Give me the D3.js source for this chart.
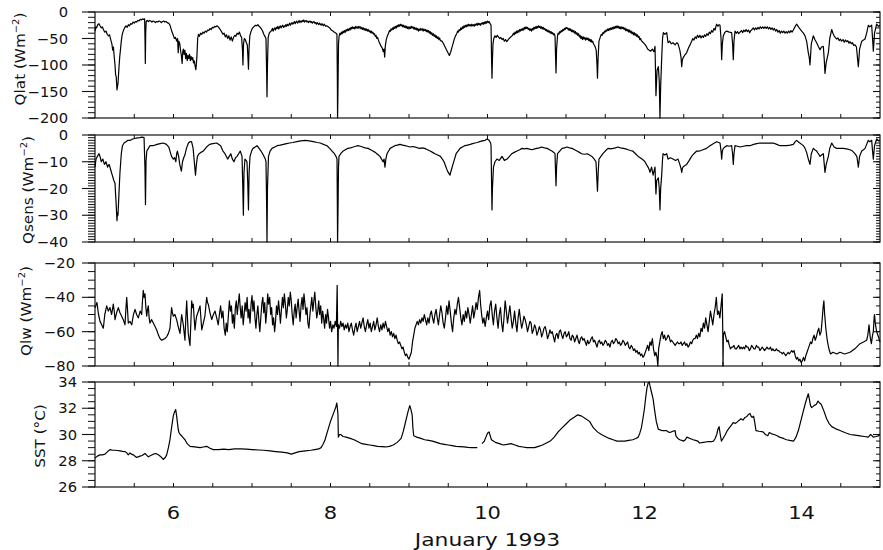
<!DOCTYPE html>
<html>
<head>
<meta charset="utf-8">
<script src="https://cdn.jsdelivr.net/npm/d3@7"></script>
<style>
  body { margin: 0; background: #fff; }
  svg text { font-family: "DejaVu Sans", "Liberation Sans", sans-serif; font-weight: normal; fill: #111; }
</style>
</head>
<body>
<svg id="chart" width="883" height="550"></svg>
<script>
// Surface heat-flux components and sea-surface temperature, 5-15 January 1993.
// Time is in days of January 1993; each series is [day, value].

const qlatSeries = [
  [5.000,-36],[5.010,-28],[5.020,-30],[5.035,-24],[5.050,-22],[5.064,-26],[5.080,-30],[5.095,-28],[5.110,-34],
  [5.125,-38],[5.140,-36],[5.155,-42],[5.170,-45],[5.185,-43],[5.200,-52],[5.215,-60],[5.225,-72],[5.235,-66],
  [5.245,-85],[5.255,-100],[5.262,-118],[5.270,-122],[5.280,-147],[5.287,-140],[5.293,-135],[5.300,-118],
  [5.306,-103],[5.315,-85],[5.325,-70],[5.335,-55],[5.344,-45],[5.355,-38],[5.370,-32],[5.385,-28],[5.395,-26],
  [5.410,-29],[5.425,-24],[5.440,-26],[5.455,-22],[5.470,-23],[5.485,-19],[5.500,-21],[5.515,-18],[5.530,-19],
  [5.545,-16],[5.560,-17],[5.575,-14],[5.590,-15],[5.605,-13],[5.620,-14],[5.632,-13],[5.638,-60],[5.641,-97],
  [5.646,-40],[5.652,-18],[5.665,-16],[5.680,-18],[5.695,-16],[5.710,-17],[5.725,-19],[5.740,-17],[5.755,-18],
  [5.770,-20],[5.785,-18],[5.800,-19],[5.815,-17],[5.830,-18],[5.845,-20],[5.860,-18],[5.875,-17],[5.890,-19],
  [5.905,-18],[5.920,-20],[5.935,-21],[5.950,-23],[5.962,-28],[5.975,-35],[5.988,-40],[6.000,-45],[6.012,-50],
  [6.025,-48],[6.040,-55],[6.052,-50],[6.060,-77],[6.068,-55],[6.080,-60],[6.092,-75],[6.100,-82],[6.110,-97],
  [6.118,-75],[6.125,-70],[6.135,-80],[6.145,-72],[6.155,-88],[6.165,-78],[6.175,-92],[6.185,-82],[6.195,-88],
  [6.205,-80],[6.215,-92],[6.225,-84],[6.235,-90],[6.245,-86],[6.255,-96],[6.265,-92],[6.275,-102],[6.285,-109],
  [6.293,-95],[6.300,-78],[6.308,-50],[6.318,-42],[6.330,-46],[6.345,-40],[6.360,-42],[6.375,-38],[6.390,-40],
  [6.405,-36],[6.420,-38],[6.435,-34],[6.450,-35],[6.465,-31],[6.480,-33],[6.495,-29],[6.510,-30],[6.525,-27],
  [6.540,-28],[6.555,-26],[6.570,-28],[6.585,-31],[6.600,-34],[6.615,-38],[6.630,-42],[6.645,-40],[6.660,-47],
  [6.675,-43],[6.690,-50],[6.705,-45],[6.720,-53],[6.735,-47],[6.750,-55],[6.765,-48],[6.780,-44],[6.795,-46],
  [6.810,-40],[6.825,-42],[6.840,-38],[6.855,-45],[6.868,-48],[6.878,-70],[6.885,-100],[6.892,-60],[6.902,-50],
  [6.915,-52],[6.928,-58],[6.940,-62],[6.948,-85],[6.955,-108],[6.962,-70],[6.972,-45],[6.985,-38],[7.000,-32],
  [7.015,-29],[7.030,-27],[7.045,-25],[7.060,-26],[7.075,-24],[7.090,-27],[7.105,-29],[7.120,-32],[7.135,-36],
  [7.150,-42],[7.165,-46],[7.178,-50],[7.186,-110],[7.191,-160],[7.197,-100],[7.206,-48],[7.220,-40],[7.235,-37],
  [7.250,-35],[7.260,-31],[7.270,-36],[7.280,-32],[7.290,-30],[7.300,-34],[7.310,-29],[7.320,-31],[7.330,-27],
  [7.340,-32],[7.350,-29],[7.360,-26],[7.370,-30],[7.380,-27],[7.390,-25],[7.400,-29],[7.410,-26],[7.420,-28],
  [7.430,-24],[7.440,-27],[7.450,-23],[7.460,-26],[7.470,-24],[7.480,-21],[7.490,-25],[7.500,-22],[7.510,-20],
  [7.520,-23],[7.530,-21],[7.540,-18],[7.550,-22],[7.560,-19],[7.570,-17],[7.580,-21],[7.590,-19],[7.600,-16],
  [7.610,-20],[7.620,-17],[7.630,-19],[7.640,-16],[7.650,-18],[7.660,-15],[7.670,-19],[7.680,-17],[7.690,-16],
  [7.700,-19],[7.710,-17],[7.720,-20],[7.730,-18],[7.740,-17],[7.750,-20],[7.760,-18],[7.770,-21],[7.780,-19],
  [7.790,-18],[7.800,-21],[7.810,-20],[7.820,-23],[7.830,-20],[7.840,-22],[7.850,-24],[7.860,-21],[7.870,-23],
  [7.880,-25],[7.890,-22],[7.900,-24],[7.910,-26],[7.920,-23],[7.930,-25],[7.940,-27],[7.950,-26],[7.970,-28],
  [7.990,-30],[8.010,-34],[8.030,-36],[8.050,-38],[8.070,-40],[8.082,-42],[8.087,-120],[8.090,-200],
  [8.095,-150],[8.102,-60],[8.110,-45],[8.120,-40],[8.130,-43],[8.140,-38],[8.150,-41],[8.160,-36],[8.170,-39],
  [8.180,-35],[8.190,-38],[8.200,-33],[8.210,-36],[8.220,-32],[8.230,-35],[8.240,-31],[8.250,-34],[8.260,-29],
  [8.270,-32],[8.280,-28],[8.290,-31],[8.300,-29],[8.310,-32],[8.320,-27],[8.330,-30],[8.340,-28],[8.350,-31],
  [8.360,-27],[8.370,-30],[8.380,-28],[8.390,-32],[8.400,-29],[8.410,-33],[8.420,-30],[8.430,-34],[8.440,-31],
  [8.450,-35],[8.460,-32],[8.470,-36],[8.480,-33],[8.490,-37],[8.500,-35],[8.510,-39],[8.520,-36],[8.530,-40],
  [8.540,-38],[8.550,-42],[8.560,-41],[8.570,-46],[8.580,-44],[8.590,-50],[8.600,-48],[8.615,-55],[8.630,-60],
  [8.645,-65],[8.660,-68],[8.672,-75],[8.682,-70],[8.690,-85],[8.698,-65],[8.710,-52],[8.725,-45],[8.740,-40],
  [8.750,-35],[8.760,-37],[8.770,-32],[8.780,-34],[8.790,-30],[8.800,-33],[8.810,-28],[8.820,-31],[8.830,-27],
  [8.840,-30],[8.850,-25],[8.860,-28],[8.870,-24],[8.880,-27],[8.890,-23],[8.900,-26],[8.910,-24],[8.920,-28],
  [8.930,-25],[8.940,-29],[8.950,-26],[8.960,-30],[8.970,-27],[8.980,-31],[8.990,-28],[9.000,-32],[9.010,-28],
  [9.020,-31],[9.030,-27],[9.040,-30],[9.050,-28],[9.060,-32],[9.070,-29],[9.080,-33],[9.090,-30],[9.100,-34],
  [9.110,-31],[9.120,-36],[9.130,-32],[9.140,-35],[9.150,-31],[9.160,-34],[9.170,-32],[9.180,-36],[9.190,-32],
  [9.200,-35],[9.210,-33],[9.220,-37],[9.230,-34],[9.240,-38],[9.250,-35],[9.260,-40],[9.270,-37],[9.280,-42],
  [9.290,-39],[9.300,-44],[9.310,-41],[9.320,-46],[9.330,-43],[9.340,-48],[9.350,-45],[9.360,-50],[9.370,-47],
  [9.380,-52],[9.390,-49],[9.400,-54],[9.420,-55],[9.440,-60],[9.460,-66],[9.480,-72],[9.500,-78],[9.515,-82],
  [9.530,-76],[9.545,-68],[9.560,-60],[9.575,-52],[9.590,-46],[9.610,-40],[9.620,-36],[9.630,-38],[9.640,-33],
  [9.650,-35],[9.660,-30],[9.670,-33],[9.680,-28],[9.690,-31],[9.700,-26],[9.710,-29],[9.720,-25],[9.730,-28],
  [9.740,-24],[9.750,-27],[9.760,-23],[9.770,-26],[9.780,-24],[9.790,-27],[9.800,-23],[9.810,-26],[9.820,-24],
  [9.830,-27],[9.840,-23],[9.850,-25],[9.860,-22],[9.870,-25],[9.880,-21],[9.890,-24],[9.900,-22],[9.910,-25],
  [9.920,-21],[9.930,-23],[9.940,-20],[9.950,-23],[9.960,-19],[9.970,-22],[9.980,-18],[9.990,-21],[10.000,-17],
  [10.010,-20],[10.020,-18],[10.030,-21],[10.045,-25],[10.052,-90],[10.057,-125],[10.063,-90],[10.070,-60],
  [10.080,-50],[10.095,-45],[10.110,-48],[10.125,-44],[10.140,-47],[10.155,-50],[10.170,-48],[10.185,-52],
  [10.200,-50],[10.215,-55],[10.230,-52],[10.245,-56],[10.260,-53],[10.275,-50],[10.290,-48],[10.305,-46],
  [10.320,-44],[10.330,-40],[10.340,-43],[10.350,-38],[10.360,-41],[10.370,-36],[10.380,-39],[10.390,-35],
  [10.400,-38],[10.410,-33],[10.420,-36],[10.430,-32],[10.440,-35],[10.450,-31],[10.460,-34],[10.470,-29],
  [10.480,-32],[10.490,-28],[10.500,-31],[10.510,-29],[10.520,-33],[10.530,-31],[10.540,-35],[10.550,-32],
  [10.560,-36],[10.570,-31],[10.580,-34],[10.590,-29],[10.600,-32],[10.610,-28],[10.620,-31],[10.630,-27],
  [10.640,-30],[10.650,-26],[10.660,-29],[10.670,-27],[10.680,-31],[10.690,-28],[10.700,-32],[10.710,-29],
  [10.720,-33],[10.730,-31],[10.740,-35],[10.750,-33],[10.760,-37],[10.770,-34],[10.780,-38],[10.790,-36],
  [10.800,-40],[10.810,-37],[10.820,-41],[10.830,-39],[10.840,-43],[10.850,-41],[10.860,-45],[10.866,-80],
  [10.873,-115],[10.880,-70],[10.892,-45],[10.900,-40],[10.910,-42],[10.920,-37],[10.930,-39],[10.940,-35],
  [10.950,-37],[10.960,-33],[10.970,-35],[10.980,-31],[10.990,-33],[11.000,-29],[11.010,-31],[11.020,-30],
  [11.030,-34],[11.040,-31],[11.050,-35],[11.060,-32],[11.070,-37],[11.080,-34],[11.090,-38],[11.100,-35],
  [11.110,-40],[11.120,-37],[11.130,-42],[11.140,-39],[11.150,-44],[11.160,-41],[11.170,-47],[11.180,-44],
  [11.190,-50],[11.200,-46],[11.210,-52],[11.220,-47],[11.230,-51],[11.240,-48],[11.250,-53],[11.260,-49],
  [11.270,-52],[11.280,-49],[11.290,-54],[11.300,-51],[11.310,-56],[11.320,-52],[11.330,-57],[11.340,-55],
  [11.350,-60],[11.370,-65],[11.385,-72],[11.395,-100],[11.401,-125],[11.408,-90],[11.420,-55],[11.440,-46],
  [11.450,-42],[11.460,-44],[11.470,-39],[11.480,-41],[11.490,-36],[11.500,-38],[11.510,-34],[11.520,-36],
  [11.530,-32],[11.540,-35],[11.550,-31],[11.560,-34],[11.570,-30],[11.580,-33],[11.590,-29],[11.600,-32],
  [11.610,-28],[11.620,-31],[11.630,-27],[11.640,-30],[11.650,-26],[11.660,-30],[11.670,-27],[11.680,-31],
  [11.690,-28],[11.700,-32],[11.710,-28],[11.720,-31],[11.730,-29],[11.740,-33],[11.750,-30],[11.760,-35],
  [11.770,-32],[11.780,-36],[11.790,-33],[11.800,-38],[11.810,-34],[11.820,-39],[11.830,-36],[11.840,-41],
  [11.850,-38],[11.860,-43],[11.870,-39],[11.880,-44],[11.890,-41],[11.900,-46],[11.910,-43],[11.920,-48],
  [11.930,-46],[11.940,-52],[11.950,-50],[11.960,-54],[11.980,-57],[12.000,-60],[12.020,-64],[12.040,-70],
  [12.060,-72],[12.080,-74],[12.100,-70],[12.120,-75],[12.134,-65],[12.146,-158],[12.160,-110],[12.176,-103],
  [12.188,-130],[12.197,-200],[12.206,-140],[12.219,-87],[12.230,-50],[12.240,-39],[12.260,-42],[12.283,-39],
  [12.300,-58],[12.320,-55],[12.340,-60],[12.363,-58],[12.390,-62],[12.410,-58],[12.427,-60],[12.450,-72],
  [12.465,-85],[12.474,-103],[12.483,-90],[12.490,-87],[12.510,-82],[12.537,-77],[12.560,-68],[12.580,-62],
  [12.601,-55],[12.615,-50],[12.630,-53],[12.645,-47],[12.660,-50],[12.675,-44],[12.690,-48],[12.705,-44],
  [12.720,-49],[12.735,-45],[12.750,-48],[12.765,-43],[12.780,-46],[12.795,-41],[12.810,-44],[12.825,-38],
  [12.840,-41],[12.855,-35],[12.870,-38],[12.885,-31],[12.900,-34],[12.910,-27],[12.920,-23],[12.935,-27],
  [12.950,-24],[12.962,-25],[12.975,-50],[12.983,-90],[12.992,-60],[13.004,-45],[13.025,-38],[13.047,-36],
  [13.080,-38],[13.110,-39],[13.122,-60],[13.131,-90],[13.140,-55],[13.153,-36],[13.170,-40],[13.185,-37],
  [13.200,-41],[13.217,-38],[13.235,-35],[13.250,-39],[13.265,-34],[13.280,-37],[13.295,-33],[13.310,-37],
  [13.325,-34],[13.340,-39],[13.355,-35],[13.370,-33],[13.386,-30],[13.400,-34],[13.415,-30],[13.430,-33],
  [13.445,-29],[13.460,-32],[13.475,-28],[13.490,-31],[13.505,-28],[13.520,-31],[13.535,-28],[13.550,-31],
  [13.565,-28],[13.580,-32],[13.595,-29],[13.610,-33],[13.625,-30],[13.640,-34],[13.655,-31],[13.670,-36],
  [13.685,-33],[13.700,-38],[13.715,-35],[13.730,-40],[13.745,-36],[13.760,-39],[13.775,-36],[13.790,-40],
  [13.805,-37],[13.820,-40],[13.835,-36],[13.850,-39],[13.865,-35],[13.880,-38],[13.896,-34],[13.910,-30],
  [13.925,-26],[13.938,-23],[13.970,-30],[14.002,-36],[14.025,-40],[14.045,-45],[14.065,-55],[14.087,-77],
  [14.098,-85],[14.108,-100],[14.125,-60],[14.150,-45],[14.170,-52],[14.193,-58],[14.215,-65],[14.236,-71],
  [14.255,-66],[14.278,-65],[14.290,-90],[14.299,-116],[14.315,-95],[14.342,-77],[14.360,-50],[14.385,-33],
  [14.400,-40],[14.415,-45],[14.430,-48],[14.448,-51],[14.465,-49],[14.480,-54],[14.495,-51],[14.510,-55],
  [14.529,-52],[14.545,-57],[14.560,-53],[14.575,-56],[14.590,-54],[14.605,-59],[14.618,-56],[14.635,-60],
  [14.650,-58],[14.665,-63],[14.682,-62],[14.700,-66],[14.715,-90],[14.724,-103],[14.740,-70],[14.767,-55],
  [14.790,-53],[14.809,-51],[14.830,-40],[14.851,-25],[14.870,-28],[14.894,-25],[14.905,-50],[14.915,-74],
  [14.930,-40],[14.957,-23],[14.980,-27],[15.000,-25]
];

const qsensSeries = [
  [5.000,-12],[5.013,-9],[5.030,-8],[5.050,-7],[5.064,-8],[5.080,-10],[5.100,-9],[5.120,-11],[5.140,-10],
  [5.160,-12],[5.180,-11],[5.200,-13],[5.220,-15],[5.240,-17],[5.255,-18],[5.262,-22],[5.268,-25],[5.280,-32],
  [5.287,-29],[5.293,-30],[5.305,-22],[5.318,-14],[5.335,-7],[5.350,-4],[5.370,-3],[5.395,-2.5],[5.420,-2],
  [5.450,-2],[5.480,-1.5],[5.520,-1.2],[5.570,-1],[5.600,-0.8],[5.625,-1],[5.636,-12],[5.643,-26],[5.650,-10],
  [5.660,-6],[5.680,-5],[5.700,-4],[5.740,-4],[5.790,-3.5],[5.830,-3.2],[5.870,-3],[5.910,-3.5],[5.940,-4.5],
  [5.955,-6],[5.975,-8],[5.998,-9],[6.015,-8.5],[6.030,-10],[6.040,-7],[6.050,-6],[6.065,-8],[6.080,-11],
  [6.100,-13.5],[6.115,-10],[6.130,-8.5],[6.145,-7.5],[6.165,-5],[6.190,-3],[6.210,-2.5],[6.230,-2.5],
  [6.250,-5],[6.265,-10],[6.280,-15],[6.292,-11],[6.305,-8],[6.325,-7],[6.350,-6.5],[6.380,-6],[6.420,-4.5],
  [6.460,-3.5],[6.500,-3.2],[6.550,-3],[6.600,-4],[6.630,-6],[6.656,-7],[6.690,-9],[6.710,-8],[6.730,-7],
  [6.750,-9],[6.770,-10],[6.790,-8.5],[6.810,-8],[6.830,-7],[6.850,-6],[6.873,-8],[6.883,-20],[6.890,-30],
  [6.898,-14],[6.910,-9],[6.925,-9.5],[6.936,-10],[6.946,-18],[6.955,-28],[6.963,-14],[6.975,-8],[6.995,-6],
  [7.013,-5],[7.040,-4.5],[7.064,-4],[7.090,-5],[7.115,-6],[7.135,-7],[7.153,-8],[7.170,-9],[7.178,-10],
  [7.186,-25],[7.191,-40],[7.197,-20],[7.210,-8],[7.230,-6],[7.255,-5],[7.290,-4.5],[7.320,-4],[7.360,-3.8],
  [7.400,-3.5],[7.440,-3.2],[7.480,-3],[7.520,-2.8],[7.570,-2.5],[7.620,-2.2],[7.680,-2],[7.730,-2.2],
  [7.780,-2.5],[7.830,-2.8],[7.870,-3],[7.910,-3.5],[7.955,-4],[7.990,-5],[8.020,-6],[8.050,-7],[8.070,-8],
  [8.083,-9],[8.087,-25],[8.090,-40],[8.095,-30],[8.102,-12],[8.108,-8],[8.130,-7],[8.160,-6],[8.190,-5.5],
  [8.220,-5],[8.255,-4.8],[8.290,-4.5],[8.320,-4.2],[8.350,-4],[8.380,-4.2],[8.410,-4.5],[8.440,-4.8],
  [8.480,-5],[8.510,-5.5],[8.540,-6],[8.570,-6.5],[8.590,-7],[8.610,-7.5],[8.630,-8],[8.650,-9],[8.670,-10],
  [8.682,-9],[8.694,-12],[8.705,-9],[8.720,-7],[8.740,-6],[8.760,-5],[8.790,-4.5],[8.820,-4],[8.850,-3.8],
  [8.885,-3.5],[8.920,-3.8],[8.950,-4],[8.980,-4.2],[9.013,-4.5],[9.045,-4.3],[9.080,-4.5],[9.110,-4.8],
  [9.140,-5],[9.170,-4.8],[9.200,-5],[9.235,-5.5],[9.270,-6],[9.300,-6.5],[9.330,-7],[9.365,-7.5],[9.400,-8],
  [9.425,-9],[9.446,-10],[9.465,-11.5],[9.484,-13],[9.500,-14],[9.522,-15],[9.540,-13],[9.560,-11],[9.580,-9],
  [9.600,-7],[9.625,-6],[9.650,-5],[9.680,-4.5],[9.710,-4],[9.745,-3.8],[9.780,-3.5],[9.810,-3.2],[9.840,-3],
  [9.870,-2.8],[9.900,-2.5],[9.935,-2.2],[9.970,-2],[9.995,-1.5],[10.020,-2],[10.040,-3],[10.045,-4],
  [10.052,-18],[10.057,-28],[10.063,-20],[10.076,-12],[10.095,-10],[10.120,-9],[10.150,-9.5],[10.185,-8],
  [10.215,-9.5],[10.250,-9],[10.280,-8],[10.310,-7],[10.340,-6.5],[10.376,-6],[10.410,-5.5],[10.440,-5],
  [10.470,-5.2],[10.500,-5],[10.535,-5.3],[10.567,-5.5],[10.600,-5.2],[10.630,-5],[10.660,-4.8],[10.690,-4.5],
  [10.725,-4.8],[10.760,-5],[10.790,-5.5],[10.820,-6],[10.845,-6.5],[10.860,-7],[10.866,-13],[10.873,-19],
  [10.880,-12],[10.892,-7],[10.920,-6],[10.950,-5],[10.980,-4.8],[11.013,-4.5],[11.045,-4.8],[11.076,-5],
  [11.110,-5.5],[11.140,-6],[11.170,-6.5],[11.200,-7],[11.235,-7.2],[11.270,-7],[11.300,-7.5],[11.330,-8],
  [11.360,-9],[11.382,-10],[11.392,-16],[11.401,-21],[11.410,-14],[11.420,-9],[11.445,-8],[11.470,-7],
  [11.500,-6],[11.535,-5],[11.565,-5.2],[11.600,-5],[11.630,-4.8],[11.660,-4.5],[11.695,-4.8],[11.730,-5],
  [11.760,-5.2],[11.790,-5.5],[11.820,-5.8],[11.850,-6],[11.885,-7],[11.920,-8],[11.945,-8.5],[11.968,-9],
  [11.990,-9.5],[12.006,-10],[12.025,-11],[12.045,-12],[12.060,-13],[12.070,-14],[12.090,-12],[12.110,-15],
  [12.125,-13],[12.134,-12],[12.140,-18],[12.146,-22],[12.155,-17],[12.176,-16],[12.188,-20],[12.197,-28],
  [12.206,-20],[12.219,-15],[12.230,-9],[12.236,-7],[12.260,-7.5],[12.283,-7],[12.300,-9],[12.330,-8.5],
  [12.363,-9],[12.395,-9.5],[12.427,-9],[12.450,-11],[12.465,-12.5],[12.474,-14],[12.483,-12.5],[12.490,-12],
  [12.510,-11.5],[12.537,-11],[12.570,-9.5],[12.600,-8],[12.630,-7],[12.665,-6],[12.700,-6],[12.745,-5.5],
  [12.790,-5],[12.834,-4],[12.880,-3.2],[12.920,-2.5],[12.945,-2.8],[12.962,-3],[12.975,-6],[12.983,-9],
  [12.992,-6],[13.004,-5],[13.025,-4.5],[13.047,-4],[13.080,-4.2],[13.110,-4],[13.122,-7],[13.131,-11],
  [13.140,-7],[13.153,-4],[13.185,-4.2],[13.217,-4.5],[13.260,-4.2],[13.300,-4],[13.344,-4],[13.390,-3.5],
  [13.430,-3.2],[13.470,-3],[13.515,-3],[13.557,-3],[13.600,-3],[13.640,-3],[13.685,-3.5],[13.726,-4],
  [13.770,-4],[13.811,-4],[13.855,-3.8],[13.896,-3.5],[13.920,-2.5],[13.938,-2],[13.970,-2.8],[14.002,-3.5],
  [14.025,-4],[14.045,-5],[14.065,-6.5],[14.087,-9],[14.098,-10],[14.108,-11],[14.125,-7],[14.150,-5],
  [14.170,-5.5],[14.193,-6],[14.215,-7],[14.236,-8],[14.255,-7.5],[14.278,-7],[14.290,-11],[14.299,-14],
  [14.315,-11],[14.342,-8],[14.360,-5],[14.385,-3],[14.415,-4.5],[14.448,-5],[14.490,-5],[14.530,-5],
  [14.575,-5.2],[14.618,-5.5],[14.650,-6],[14.680,-7],[14.705,-8],[14.715,-10],[14.724,-12],[14.740,-8],
  [14.767,-6],[14.790,-5.5],[14.810,-5],[14.830,-3.5],[14.851,-2],[14.870,-2.5],[14.894,-2],[14.905,-6],
  [14.915,-9],[14.930,-4],[14.957,-1.5],[14.980,-2.2],[15.000,-2]
];

const qlwSeries = [
  [5.000,-46],[5.010,-45],[5.025,-43],[5.045,-50],[5.064,-54],[5.085,-56],[5.106,-58],[5.125,-50],[5.149,-45],
  [5.170,-48],[5.191,-46],[5.212,-50],[5.233,-44],[5.245,-48],[5.255,-53],[5.275,-49],[5.297,-46],[5.318,-49],
  [5.340,-51],[5.360,-53],[5.382,-56],[5.392,-48],[5.404,-40],[5.414,-47],[5.424,-55],[5.445,-54],[5.468,-56],
  [5.490,-50],[5.510,-47],[5.530,-50],[5.552,-52],[5.575,-48],[5.595,-50],[5.605,-42],[5.615,-36],[5.626,-40],
  [5.637,-38],[5.648,-46],[5.659,-51],[5.669,-47],[5.679,-45],[5.690,-52],[5.700,-55],[5.720,-53],[5.743,-55],
  [5.765,-57],[5.786,-59],[5.808,-62],[5.828,-64],[5.850,-65],[5.870,-64.5],[5.892,-64],[5.913,-63],[5.935,-61],
  [5.955,-58],[5.965,-52],[5.976,-46],[5.987,-49],[5.997,-51],[6.018,-50],[6.040,-53],[6.060,-57],[6.083,-61],
  [6.094,-55],[6.104,-50],[6.125,-56],[6.146,-65],[6.157,-52],[6.168,-42],[6.178,-52],[6.188,-61],[6.200,-65],
  [6.210,-68],[6.221,-55],[6.232,-42],[6.242,-46],[6.252,-44],[6.263,-52],[6.274,-59],[6.285,-54],[6.295,-51],
  [6.317,-48],[6.338,-45],[6.349,-52],[6.360,-59],[6.380,-55],[6.400,-51],[6.412,-45],[6.423,-40],[6.433,-43],
  [6.443,-44],[6.465,-49],[6.487,-53],[6.508,-50],[6.529,-48],[6.550,-52],[6.570,-56],[6.585,-50],[6.600,-45],
  [6.615,-52],[6.630,-48],[6.645,-58],[6.660,-62],[6.672,-55],[6.685,-60],[6.700,-50],[6.712,-42],[6.725,-48],
  [6.738,-45],[6.750,-55],[6.762,-50],[6.775,-58],[6.788,-46],[6.800,-42],[6.812,-50],[6.825,-44],[6.838,-38],
  [6.850,-46],[6.862,-52],[6.875,-45],[6.888,-56],[6.900,-50],[6.912,-43],[6.925,-48],[6.938,-40],[6.950,-52],
  [6.962,-47],[6.975,-55],[6.988,-44],[7.000,-39],[7.012,-48],[7.025,-42],[7.038,-52],[7.050,-58],[7.062,-50],
  [7.075,-45],[7.088,-54],[7.100,-60],[7.112,-52],[7.125,-44],[7.138,-40],[7.150,-49],[7.162,-43],[7.175,-55],
  [7.188,-48],[7.200,-38],[7.212,-44],[7.225,-40],[7.238,-50],[7.250,-46],[7.262,-56],[7.275,-52],[7.288,-60],
  [7.300,-54],[7.312,-45],[7.325,-50],[7.338,-42],[7.350,-48],[7.362,-55],[7.375,-47],[7.388,-40],[7.400,-46],
  [7.412,-38],[7.425,-44],[7.438,-52],[7.450,-47],[7.462,-40],[7.475,-45],[7.488,-37],[7.500,-42],[7.512,-50],
  [7.525,-56],[7.538,-48],[7.550,-44],[7.562,-52],[7.575,-46],[7.588,-41],[7.600,-48],[7.612,-54],[7.625,-45],
  [7.638,-40],[7.650,-47],[7.662,-38],[7.675,-44],[7.688,-50],[7.700,-46],[7.712,-55],[7.725,-58],[7.738,-50],
  [7.750,-45],[7.762,-40],[7.775,-48],[7.788,-42],[7.800,-37],[7.812,-45],[7.825,-52],[7.838,-48],[7.850,-42],
  [7.862,-50],[7.875,-45],[7.888,-55],[7.900,-48],[7.912,-52],[7.925,-58],[7.938,-50],[7.950,-55],[7.962,-47],
  [7.975,-52],[7.988,-58],[8.000,-54],[8.015,-60],[8.030,-56],[8.045,-58],[8.060,-54],[8.075,-57],[8.085,-33],
  [8.090,-55],[8.095,-80],[8.100,-56],[8.115,-58],[8.130,-54],[8.145,-57],[8.160,-55],[8.175,-59],[8.190,-56],
  [8.205,-58],[8.220,-55],[8.235,-60],[8.250,-57],[8.265,-55],[8.280,-59],[8.295,-62],[8.310,-58],[8.325,-55],
  [8.340,-60],[8.355,-57],[8.370,-54],[8.385,-58],[8.400,-55],[8.415,-52],[8.430,-57],[8.445,-60],[8.460,-56],
  [8.475,-53],[8.490,-58],[8.505,-55],[8.520,-60],[8.535,-57],[8.550,-54],[8.565,-59],[8.580,-56],[8.595,-52],
  [8.610,-57],[8.625,-60],[8.640,-56],[8.655,-59],[8.670,-55],[8.685,-58],[8.700,-54],[8.715,-57],[8.730,-60],
  [8.745,-58],[8.760,-62],[8.775,-60],[8.790,-63],[8.805,-61],[8.820,-64],[8.835,-62],[8.850,-65],[8.865,-67],
  [8.880,-66],[8.895,-68],[8.910,-70],[8.925,-69],[8.940,-72],[8.955,-74],[8.970,-73],[8.985,-75],[9.000,-76],
  [9.015,-74],[9.030,-72],[9.045,-66],[9.060,-62],[9.075,-58],[9.090,-56],[9.105,-54],[9.120,-56],[9.135,-53],
  [9.150,-55],[9.165,-52],[9.180,-54],[9.195,-50],[9.210,-53],[9.225,-56],[9.240,-52],[9.255,-55],[9.270,-50],
  [9.285,-48],[9.300,-52],[9.315,-55],[9.330,-50],[9.345,-47],[9.360,-52],[9.375,-56],[9.390,-50],[9.405,-45],
  [9.420,-49],[9.435,-55],[9.450,-58],[9.465,-52],[9.480,-45],[9.495,-50],[9.510,-42],[9.525,-48],[9.540,-55],
  [9.555,-60],[9.570,-52],[9.585,-47],[9.600,-50],[9.615,-44],[9.630,-40],[9.645,-46],[9.660,-52],[9.675,-56],
  [9.690,-50],[9.705,-54],[9.720,-48],[9.735,-52],[9.750,-46],[9.765,-50],[9.780,-55],[9.795,-50],[9.810,-45],
  [9.825,-52],[9.840,-48],[9.855,-43],[9.870,-47],[9.885,-40],[9.900,-36],[9.912,-44],[9.925,-50],[9.940,-55],
  [9.955,-52],[9.970,-57],[9.985,-52],[10.000,-48],[10.015,-53],[10.030,-45],[10.045,-42],[10.060,-50],
  [10.075,-56],[10.090,-48],[10.105,-44],[10.120,-52],[10.135,-58],[10.150,-50],[10.165,-46],[10.180,-55],
  [10.195,-60],[10.210,-52],[10.225,-42],[10.240,-48],[10.255,-55],[10.270,-50],[10.285,-45],[10.300,-52],
  [10.315,-58],[10.330,-54],[10.345,-48],[10.360,-55],[10.375,-60],[10.390,-52],[10.405,-47],[10.420,-53],
  [10.435,-58],[10.450,-55],[10.465,-51],[10.480,-53],[10.495,-56],[10.510,-60],[10.525,-57],[10.540,-54],
  [10.555,-55],[10.570,-61],[10.585,-59],[10.600,-56],[10.615,-58],[10.630,-62],[10.645,-60],[10.660,-57],
  [10.675,-59],[10.690,-63],[10.705,-61],[10.720,-58],[10.735,-57],[10.750,-60],[10.765,-64],[10.780,-62],
  [10.795,-59],[10.810,-61],[10.825,-60],[10.840,-63],[10.855,-66],[10.870,-62],[10.885,-61],[10.900,-64],
  [10.915,-60],[10.930,-59],[10.945,-62],[10.960,-64],[10.975,-61],[10.990,-60],[11.005,-63],[11.020,-62],
  [11.035,-60],[11.050,-64],[11.065,-65],[11.080,-62],[11.095,-63],[11.110,-66],[11.125,-64],[11.140,-62],
  [11.155,-65],[11.170,-67],[11.185,-64],[11.200,-63],[11.215,-65],[11.230,-64],[11.245,-66],[11.260,-68],
  [11.275,-65],[11.290,-67],[11.305,-66],[11.320,-64],[11.335,-63],[11.350,-66],[11.365,-65],[11.380,-67],
  [11.395,-69],[11.410,-66],[11.425,-65],[11.440,-67],[11.455,-66],[11.470,-68],[11.485,-67],[11.500,-65],
  [11.515,-66],[11.530,-68],[11.545,-67],[11.560,-69],[11.575,-66],[11.590,-65],[11.605,-67],[11.620,-66],
  [11.635,-64],[11.650,-65],[11.665,-67],[11.680,-66],[11.695,-68],[11.710,-67],[11.725,-65],[11.740,-66],
  [11.755,-68],[11.770,-67],[11.785,-66],[11.800,-69],[11.815,-70],[11.830,-68],[11.845,-69],[11.860,-71],
  [11.875,-70],[11.890,-72],[11.905,-71],[11.920,-73],[11.935,-72],[11.950,-74],[11.965,-73],[11.980,-75],
  [11.995,-74],[12.010,-72],[12.025,-70],[12.040,-68],[12.055,-71],[12.070,-66],[12.085,-68],[12.100,-64],
  [12.115,-70],[12.130,-74],[12.145,-72],[12.160,-75],[12.170,-80],[12.180,-70],[12.195,-66],[12.210,-62],
  [12.225,-60],[12.240,-64],[12.255,-62],[12.270,-65],[12.285,-64],[12.300,-62],[12.315,-63],[12.330,-66],
  [12.345,-65],[12.360,-66],[12.375,-67],[12.390,-68],[12.405,-67],[12.420,-66],[12.435,-67],[12.450,-67],
  [12.465,-66],[12.480,-68],[12.495,-67],[12.510,-66],[12.525,-68],[12.540,-67],[12.555,-69],[12.570,-68],
  [12.585,-66],[12.600,-67],[12.615,-65],[12.630,-64],[12.645,-64],[12.660,-62],[12.675,-64],[12.690,-61],
  [12.705,-63],[12.720,-58],[12.735,-60],[12.750,-55],[12.765,-58],[12.780,-52],[12.795,-56],[12.810,-60],
  [12.825,-54],[12.840,-48],[12.855,-52],[12.870,-56],[12.885,-50],[12.900,-46],[12.915,-40],[12.930,-50],
  [12.945,-48],[12.960,-52],[12.975,-45],[12.990,-38],[12.997,-60],[13.000,-80],[13.005,-62],[13.020,-60],
  [13.035,-63],[13.050,-66],[13.065,-65],[13.080,-68],[13.095,-70],[13.110,-69],[13.125,-69],[13.140,-68],
  [13.155,-70],[13.170,-70],[13.185,-69],[13.200,-68],[13.215,-70],[13.230,-69],[13.245,-70],[13.260,-69],
  [13.275,-70],[13.290,-68],[13.305,-69],[13.320,-69],[13.335,-71],[13.350,-70],[13.365,-68],[13.380,-69],
  [13.395,-70],[13.410,-70],[13.425,-68],[13.440,-69],[13.455,-69],[13.470,-71],[13.485,-70],[13.500,-69],
  [13.515,-70],[13.530,-71],[13.545,-70],[13.560,-69],[13.575,-70],[13.590,-70],[13.605,-69],[13.620,-71],
  [13.635,-70],[13.650,-71],[13.665,-71],[13.680,-70],[13.695,-71],[13.710,-71],[13.725,-72],[13.740,-72],
  [13.755,-73],[13.770,-72],[13.785,-73],[13.800,-74],[13.815,-73],[13.830,-72],[13.845,-73],[13.860,-72],
  [13.875,-71],[13.890,-72],[13.905,-71],[13.920,-74],[13.935,-76],[13.950,-75],[13.965,-77],[13.980,-76],
  [13.995,-78],[14.010,-77],[14.025,-75],[14.040,-77],[14.055,-74],[14.070,-72],[14.085,-70],[14.100,-68],
  [14.115,-66],[14.130,-67],[14.145,-64],[14.160,-62],[14.175,-65],[14.190,-63],[14.205,-60],[14.220,-58],
  [14.235,-62],[14.250,-60],[14.265,-52],[14.275,-46],[14.285,-42],[14.295,-50],[14.310,-58],[14.325,-64],
  [14.340,-68],[14.355,-71],[14.370,-73],[14.400,-72],[14.450,-73],[14.490,-72],[14.550,-73],[14.618,-72],
  [14.680,-70],[14.745,-67],[14.790,-66],[14.830,-65],[14.845,-62],[14.860,-56],[14.875,-63],[14.890,-67],
  [14.905,-62],[14.915,-60],[14.925,-52],[14.930,-50],[14.940,-55],[14.957,-60],[14.980,-63],[15.000,-66]
];

// null marks a break in the SST record
const sstSeries = [
  [5.000,28.2],[5.030,28.35],[5.064,28.45],[5.095,28.45],[5.127,28.5],[5.160,28.7],[5.191,28.85],[5.225,28.8],
  [5.255,28.8],[5.290,28.78],[5.318,28.75],[5.350,28.72],[5.382,28.7],[5.405,28.6],[5.424,28.45],[5.446,28.6],
  [5.465,28.5],[5.488,28.45],[5.510,28.35],[5.531,28.25],[5.550,28.3],[5.573,28.35],[5.600,28.4],[5.637,28.55],
  [5.655,28.45],[5.679,28.3],[5.710,28.4],[5.743,28.5],[5.775,28.55],[5.806,28.45],[5.840,28.3],[5.870,28.1],
  [5.895,28.25],[5.913,28.45],[5.935,29.0],[5.955,29.6],[5.975,30.5],[5.997,31.4],[6.012,31.7],[6.028,31.9],
  [6.038,31.5],[6.048,31.0],[6.060,30.4],[6.070,30.15],[6.085,30.0],[6.104,29.9],[6.125,29.75],[6.146,29.6],
  [6.175,29.3],[6.210,29.1],[6.270,29.05],[6.338,29.0],[6.380,29.05],[6.423,29.1],[6.465,28.95],[6.507,28.85],
  [6.570,28.85],[6.640,28.88],[6.700,28.85],[6.780,28.9],[6.850,28.9],[6.930,28.88],[7.000,28.85],[7.080,28.82],
  [7.150,28.8],[7.230,28.75],[7.300,28.7],[7.380,28.65],[7.450,28.6],[7.500,28.5],[7.550,28.6],[7.600,28.7],
  [7.680,28.75],[7.750,28.8],[7.800,28.85],[7.850,28.9],[7.880,29.0],[7.900,29.2],[7.925,29.5],[7.950,30.0],
  [7.975,30.5],[8.000,31.0],[8.025,31.4],[8.050,31.8],[8.068,32.1],[8.080,32.4],[8.088,32.0],[8.095,31.5],
  [8.100,29.8],[8.115,30.0],[8.130,30.0],[8.160,29.85],[8.200,29.8],[8.250,29.7],[8.300,29.6],[8.350,29.45],
  [8.400,29.3],[8.450,29.25],[8.500,29.2],[8.550,29.15],[8.600,29.1],[8.650,29.08],[8.700,29.05],[8.750,29.1],
  [8.800,29.2],[8.850,29.4],[8.900,29.7],[8.925,30.2],[8.950,30.8],[8.970,31.3],[8.990,31.8],[9.010,32.2],
  [9.025,31.9],[9.040,31.5],[9.050,30.5],[9.060,29.9],[9.080,29.85],[9.100,29.8],[9.150,29.7],[9.200,29.6],
  [9.250,29.55],[9.300,29.5],[9.350,29.4],[9.400,29.3],[9.450,29.25],[9.500,29.2],[9.550,29.15],[9.600,29.1],
  [9.650,29.08],[9.700,29.05],[9.750,29.02],[9.800,29.0],[9.870,29.0],[9.900,null],[9.930,29.3],[9.960,29.5],
  [9.980,29.8],[10.000,30.1],[10.020,30.2],[10.035,29.9],[10.050,29.6],[10.075,29.5],[10.100,29.4],
  [10.150,29.3],[10.200,29.2],[10.250,29.25],[10.300,29.3],[10.350,29.2],[10.400,29.1],[10.450,29.05],
  [10.500,29.0],[10.550,29.0],[10.600,29.0],[10.650,29.1],[10.700,29.2],[10.750,29.35],[10.800,29.5],
  [10.850,29.8],[10.900,30.2],[10.950,30.5],[11.000,30.8],[11.050,31.1],[11.100,31.3],[11.150,31.5],
  [11.200,31.4],[11.250,31.2],[11.300,31.0],[11.350,30.5],[11.400,30.2],[11.450,30.0],[11.500,29.85],
  [11.550,29.7],[11.600,29.6],[11.650,29.5],[11.700,29.5],[11.750,29.5],[11.800,29.55],[11.850,29.6],
  [11.890,29.7],[11.920,29.8],[11.940,30.1],[11.960,30.5],[11.980,31.2],[12.000,32.0],[12.015,32.8],
  [12.030,33.5],[12.045,33.9],[12.060,34.0],[12.070,33.7],[12.090,33.2],[12.110,32.7],[12.130,31.8],
  [12.150,31.0],[12.176,30.4],[12.200,30.35],[12.220,30.3],[12.250,30.3],[12.280,30.3],[12.300,30.2],
  [12.325,30.15],[12.360,30.25],[12.390,30.3],[12.400,29.9],[12.425,29.7],[12.450,29.6],[12.475,29.55],
  [12.500,29.5],[12.520,29.6],[12.540,29.8],[12.580,29.7],[12.620,29.6],[12.650,29.55],[12.680,29.5],
  [12.700,29.35],[12.750,29.4],[12.800,29.45],[12.850,29.45],[12.880,29.5],[12.900,29.7],[12.920,30.0],
  [12.935,30.4],[12.950,30.6],[12.965,30.0],[12.980,29.5],[13.000,29.7],[13.030,30.0],[13.055,30.3],
  [13.080,30.5],[13.105,30.7],[13.130,30.9],[13.160,30.85],[13.190,31.0],[13.210,31.1],[13.230,31.2],
  [13.255,31.1],[13.280,31.3],[13.300,31.35],[13.320,31.5],[13.344,31.6],[13.357,31.4],[13.370,31.3],
  [13.390,31.4],[13.405,30.9],[13.420,30.3],[13.460,30.25],[13.510,30.2],[13.540,30.0],[13.570,29.9],
  [13.590,30.15],[13.620,30.05],[13.650,30.0],[13.690,29.9],[13.720,29.8],[13.770,29.7],[13.810,29.6],
  [13.850,29.55],[13.900,29.5],[13.930,29.8],[13.960,30.3],[13.990,31.0],[14.020,31.7],[14.050,32.4],
  [14.070,32.8],[14.087,33.1],[14.100,32.7],[14.115,32.2],[14.130,32.05],[14.160,32.2],[14.190,32.3],
  [14.210,32.55],[14.230,32.4],[14.250,32.3],[14.285,31.8],[14.320,31.2],[14.350,30.85],[14.385,30.6],
  [14.430,30.45],[14.490,30.3],[14.550,30.15],[14.620,30.0],[14.680,29.95],[14.745,29.9],[14.800,29.85],
  [14.850,29.8],[14.865,29.9],[14.880,30.0],[14.900,29.9],[14.915,29.8],[14.950,29.85],[14.980,29.9],
  [15.000,30.0]
];

// axis tick values
const qlatTicks = [0, -50, -100, -150, -200];
const qsensTicks = [0, -10, -20, -30, -40];
const qlwTicks = [-20, -40, -60, -80];
const sstTicks = [34, 32, 30, 28, 26];
const dayTicks = [6, 8, 10, 12, 14];
const xLabel = "January 1993";

const svg = d3.select("#chart");
const x = d3.scaleLinear().domain([5, 15]).range([95, 880]);

const panels = [
  { series: qlatSeries,  ticks: qlatTicks,  domain: [-200, 0], minor: 10,  top: 12,  bottom: 118,
    title: ["Qlat  (Wm", "\u22122", ")"], titleX: 25, titleY: 59, labelX: 68 },
  { series: qsensSeries, ticks: qsensTicks, domain: [-40, 0],  minor: 1,   top: 135, bottom: 242,
    title: ["Qsens (Wm", "\u22122", ")"], titleX: 33, titleY: 190, labelX: 68 },
  { series: qlwSeries,   ticks: qlwTicks,   domain: [-80, -20], minor: 5,  top: 263, bottom: 366,
    title: ["Qlw  (Wm", "\u22122", ")"], titleX: 31, titleY: 311, labelX: 75 },
  { series: sstSeries,   ticks: sstTicks,   domain: [26, 34],  minor: 0.5, top: 382, bottom: 487,
    title: ["SST (\u00B0C)"], titleX: 45, titleY: 436, labelX: 77 }
];

// text drawn a little wider than the font's natural proportions
function wideText(parent, px, py, str, size, anchor, sx) {
  const g = parent.append("g")
    .attr("transform", `translate(${px},${py}) scale(${sx},1)`);
  return g.append("text")
    .attr("text-anchor", anchor)
    .attr("font-size", size)
    .text(str);
}

panels.forEach(p => {
  const y = d3.scaleLinear().domain(p.domain).range([p.bottom, p.top]);
  const g = svg.append("g");

  // minor ticks on both vertical axes
  const minorVals = d3.range(p.domain[0], p.domain[1] + p.minor / 2, p.minor);
  g.append("g").selectAll("line").data(minorVals).join("line")
    .attr("x1", 88).attr("x2", 95)
    .attr("y1", d => y(d)).attr("y2", d => y(d))
    .attr("stroke", "#111").attr("stroke-width", 1);
  g.append("g").selectAll("line").data(minorVals).join("line")
    .attr("x1", 880).attr("x2", 876)
    .attr("y1", d => y(d)).attr("y2", d => y(d))
    .attr("stroke", "#111").attr("stroke-width", 1);

  // major ticks
  g.append("g").selectAll("line").data(p.ticks).join("line")
    .attr("x1", 82).attr("x2", 95)
    .attr("y1", d => y(d)).attr("y2", d => y(d))
    .attr("stroke", "#111").attr("stroke-width", 1.1);
  g.append("g").selectAll("line").data(p.ticks).join("line")
    .attr("x1", 880).attr("x2", 873)
    .attr("y1", d => y(d)).attr("y2", d => y(d))
    .attr("stroke", "#111").attr("stroke-width", 1.1);

  // half-day ticks along top and bottom edges
  const halfDays = d3.range(5.5, 15, 0.5);
  g.append("g").selectAll("line").data(halfDays).join("line")
    .attr("x1", d => x(d)).attr("x2", d => x(d))
    .attr("y1", p.bottom).attr("y2", p.bottom - 4)
    .attr("stroke", "#111").attr("stroke-width", 1);
  g.append("g").selectAll("line").data(halfDays).join("line")
    .attr("x1", d => x(d)).attr("x2", d => x(d))
    .attr("y1", p.top).attr("y2", p.top + 4)
    .attr("stroke", "#111").attr("stroke-width", 1);

  // frame
  g.append("rect")
    .attr("x", 95).attr("y", p.top)
    .attr("width", 785).attr("height", p.bottom - p.top)
    .attr("fill", "none").attr("stroke", "#111").attr("stroke-width", 1.2);

  // tick labels
  const fmt = v => (v < 0 ? "\u2212" + Math.abs(v) : String(v));
  p.ticks.forEach(v => {
    wideText(g, p.labelX, y(v) + 5, fmt(v), 14, "end", 1.05);
  });

  // axis title, rotated
  const tg = g.append("g")
    .attr("transform", `translate(${p.titleX},${p.titleY}) rotate(-90) scale(1.05,1)`);
  const t = tg.append("text").attr("text-anchor", "middle").attr("font-size", 14.5);
  t.append("tspan").text(p.title[0]);
  if (p.title.length > 1) {
    t.append("tspan").attr("dy", -6).attr("font-size", 9.5).text(p.title[1]);
    t.append("tspan").attr("dy", 6).text(p.title[2]);
  }

  // data line
  const line = d3.line()
    .defined(d => d[1] !== null)
    .x(d => x(d[0]))
    .y(d => y(d[1]));
  g.append("path")
    .datum(p.series)
    .attr("d", line)
    .attr("fill", "none")
    .attr("stroke", "#000")
    .attr("stroke-width", 1.2)
    .attr("stroke-linejoin", "round");
});

// day labels under the bottom panel
dayTicks.forEach(d => {
  wideText(svg, x(d), 519, String(d), 17.5, "middle", 1.2);
});
wideText(svg, x(10), 546, xLabel, 17.5, "middle", 1.25);
</script>
</body>
</html>
